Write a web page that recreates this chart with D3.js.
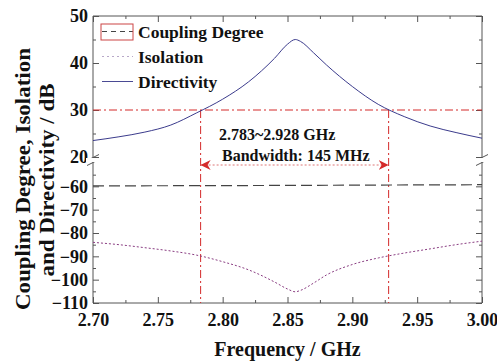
<!DOCTYPE html>
<html>
<head>
<meta charset="utf-8">
<script src="https://cdn.jsdelivr.net/npm/d3@7"></script>
<style>
  body { margin: 0; background: #fff; }
  text { font-family: "Liberation Serif", "Times New Roman", serif; font-weight: bold; fill: #111; }
</style>
</head>
<body>
<div id="chart"></div>
<script>
// data
var freq        = [2.70, 2.72, 2.74, 2.76, 2.78, 2.80, 2.82, 2.84, 2.85, 2.856, 2.86, 2.87, 2.88, 2.90, 2.92, 2.94, 2.96, 2.98, 3.00];
var directivity = [23.5, 24.3, 25.3, 26.8, 29.4, 32.3, 36.0, 41.0, 44.0, 45.0, 44.6, 42.2, 39.6, 35.0, 31.2, 28.6, 26.6, 25.2, 24.0];
var isolation   = [-84.0, -85.0, -86.3, -87.7, -89.5, -92.3, -95.8, -101.0, -104.0, -105.2, -104.6, -101.5, -98.0, -93.5, -90.7, -88.6, -86.8, -85.0, -83.5];
var couplingFreq = [2.70, 2.80, 2.85, 2.90, 3.00];
var coupling     = [-59.8, -59.7, -59.6, -59.5, -59.3];

var xTicks = [2.70, 2.75, 2.80, 2.85, 2.90, 2.95, 3.00];
var xMinor = [2.725, 2.775, 2.825, 2.875, 2.925, 2.975];
var yUpTicks = [20, 30, 40, 50];
var yUpMinor = [25, 35, 45];
var yLowTicks = [-110, -100, -90, -80, -70, -60];
var yLowMinor = [-105, -95, -85, -75, -65, -55];

var bandEdges = [2.783, 2.928];
var bandLevel = 30;

var legendNames = ["Coupling Degree", "Isolation", "Directivity"];

// margins and canvas
var margin = {left: 93, right: 15, top: 16, bottom: 58};
var width = 497 - margin.left - margin.right,
    height = 361 - margin.top - margin.bottom;

var svg = d3.select("#chart").append("svg")
    .attr("width", 497)
    .attr("height", 361);

var canvas = svg.append("g")
    .attr("transform", "translate(" + margin.left + "," + margin.top + ")");

var brk = 144;   // y of the axis break

// scales
var x = d3.scaleLinear().domain([2.70, 3.00]).range([0, width]);
var yUp = d3.scaleLinear().domain([20, 50]).range([141, 0]);
var yLow = d3.scaleLinear().domain([-110, -50]).range([height, 147]);

var axisColor = "#555";

// axes (ticks pointing inward)
function styleAxis(g) {
    g.select(".domain").remove();
    g.selectAll(".tick line").attr("stroke", axisColor);
    g.selectAll(".tick text").attr("font-size", "18px").attr("fill", "#111");
}

canvas.append("g")
    .attr("transform", "translate(0," + height + ")")
    .call(d3.axisBottom(x).tickValues(xTicks).tickSize(-6).tickPadding(10).tickFormat(d3.format(".2f")))
    .call(styleAxis);
canvas.append("g")
    .attr("transform", "translate(0," + height + ")")
    .call(d3.axisBottom(x).tickValues(xMinor).tickSize(-3).tickFormat(""))
    .call(styleAxis);
canvas.append("g")
    .call(d3.axisTop(x).tickValues(xTicks).tickSize(-6).tickFormat(""))
    .call(styleAxis);
canvas.append("g")
    .call(d3.axisTop(x).tickValues(xMinor).tickSize(-3).tickFormat(""))
    .call(styleAxis);

[[yUp, yUpTicks, yUpMinor], [yLow, yLowTicks, yLowMinor]].forEach(function(s) {
    canvas.append("g")
        .call(d3.axisLeft(s[0]).tickValues(s[1]).tickSize(-6).tickPadding(5))
        .call(styleAxis);
    canvas.append("g")
        .call(d3.axisLeft(s[0]).tickValues(s[2]).tickSize(-3).tickFormat(""))
        .call(styleAxis);
    canvas.append("g")
        .attr("transform", "translate(" + width + ",0)")
        .call(d3.axisRight(s[0]).tickValues(s[1]).tickSize(-6).tickFormat(""))
        .call(styleAxis);
    canvas.append("g")
        .attr("transform", "translate(" + width + ",0)")
        .call(d3.axisRight(s[0]).tickValues(s[2]).tickSize(-3).tickFormat(""))
        .call(styleAxis);
});

// frame with breaks
var frame = canvas.append("g").attr("stroke", axisColor).attr("stroke-width", 1).attr("fill", "none");
frame.append("line").attr("x1", 0).attr("x2", width).attr("y1", 0).attr("y2", 0);
frame.append("line").attr("x1", 0).attr("x2", width).attr("y1", height).attr("y2", height);
[0, width].forEach(function(xx) {
    frame.append("line").attr("x1", xx).attr("x2", xx).attr("y1", 0).attr("y2", brk - 2);
    frame.append("line").attr("x1", xx).attr("x2", xx).attr("y1", brk + 2).attr("y2", height);
    canvas.append("rect").attr("x", xx - 7).attr("y", brk - 2).attr("width", 14).attr("height", 4).attr("fill", "#fff");
    [-2.5, 2.5].forEach(function(off) {
        frame.append("line")
            .attr("x1", xx - 6).attr("y1", brk + off + 3)
            .attr("x2", xx + 6).attr("y2", brk + off - 3);
    });
});

// band marker lines
var red = "#d42a2a";
canvas.append("line")
    .attr("x1", 0).attr("x2", width)
    .attr("y1", yUp(bandLevel)).attr("y2", yUp(bandLevel))
    .attr("stroke", red).attr("stroke-width", 1).attr("stroke-dasharray", "8,3,2,3");
bandEdges.forEach(function(f) {
    canvas.append("line")
        .attr("x1", x(f)).attr("x2", x(f))
        .attr("y1", yUp(bandLevel)).attr("y2", height)
        .attr("stroke", red).attr("stroke-width", 1).attr("stroke-dasharray", "8,3,2,3");
});

// arrow
svg.append("defs").append("marker")
    .attr("id", "arrow")
    .attr("viewBox", "0 0 10 10")
    .attr("refX", 10).attr("refY", 5)
    .attr("markerWidth", 10).attr("markerHeight", 10)
    .attr("markerUnits", "userSpaceOnUse")
    .attr("orient", "auto-start-reverse")
  .append("path")
    .attr("d", "M0,0 L10,5 L0,10 L3,5 z")
    .attr("fill", red);

canvas.append("line")
    .attr("x1", x(bandEdges[0])).attr("x2", x(bandEdges[1]))
    .attr("y1", 149).attr("y2", 149)
    .attr("stroke", "#d77") .attr("stroke-width", 1).attr("stroke-dasharray", "2,2")
    .attr("marker-start", "url(#arrow)")
    .attr("marker-end", "url(#arrow)");

canvas.append("text")
    .attr("x", 126).attr("y", 124)
    .attr("font-size", "16px")
    .text("2.783~2.928 GHz");
canvas.append("text")
    .attr("x", 129).attr("y", 145)
    .attr("font-size", "16px")
    .text("Bandwidth: 145 MHz");

// curves
var dirLine = d3.line()
    .x(function(d, i) { return x(freq[i]); })
    .y(function(d) { return yUp(d); })
    .curve(d3.curveMonotoneX);
var isoLine = d3.line()
    .x(function(d, i) { return x(freq[i]); })
    .y(function(d) { return yLow(d); })
    .curve(d3.curveMonotoneX);
var cpLine = d3.line()
    .x(function(d, i) { return x(couplingFreq[i]); })
    .y(function(d) { return yLow(d); });

canvas.append("path").datum(coupling)
    .attr("d", cpLine).attr("fill", "none")
    .attr("stroke", "#444").attr("stroke-width", 1.2).attr("stroke-dasharray", "11,5");
canvas.append("path").datum(isolation)
    .attr("d", isoLine).attr("fill", "none")
    .attr("stroke", "#8a3d82").attr("stroke-width", 1).attr("stroke-dasharray", "2,2");
canvas.append("path").datum(directivity)
    .attr("d", dirLine).attr("fill", "none")
    .attr("stroke", "#3b3b8c").attr("stroke-width", 1);

// legend
var legendStyles = [
    {stroke: "#444", dash: "5,4"},
    {stroke: "#b8a8c8", dash: "2,3"},
    {stroke: "#4a4a94", dash: null}
];
var legend = canvas.append("g");
legendNames.forEach(function(name, i) {
    var row = legend.append("g").attr("transform", "translate(0," + (15.5 + i * 25) + ")");
    row.append("line")
        .attr("x1", 9).attr("x2", 40)
        .attr("stroke", legendStyles[i].stroke)
        .attr("stroke-width", 1)
        .attr("stroke-dasharray", legendStyles[i].dash);
    row.append("text")
        .attr("x", 45).attr("y", 0).attr("dy", "0.35em")
        .attr("font-size", "17.5px")
        .text(name);
});
legend.append("rect")
    .attr("x", 8).attr("y", 8).attr("width", 32).attr("height", 16)
    .attr("fill", "none").attr("stroke", "#c44").attr("stroke-width", 1);

// axis titles
svg.append("text")
    .attr("x", margin.left + width / 2)
    .attr("y", 356)
    .attr("font-size", "20px")
    .attr("text-anchor", "middle")
    .text("Frequency / GHz");

// y title is drawn a bit stretched along its length, like the source
svg.append("text")
    .attr("transform", "translate(30,179) rotate(-90) scale(1.15,1)")
    .attr("font-size", "20px")
    .attr("text-anchor", "middle")
    .text("Coupling Degree, Isolation");
svg.append("text")
    .attr("transform", "translate(54,180) rotate(-90) scale(1.15,1)")
    .attr("font-size", "20px")
    .attr("text-anchor", "middle")
    .text("and Directivity / dB");
</script>
</body>
</html>
